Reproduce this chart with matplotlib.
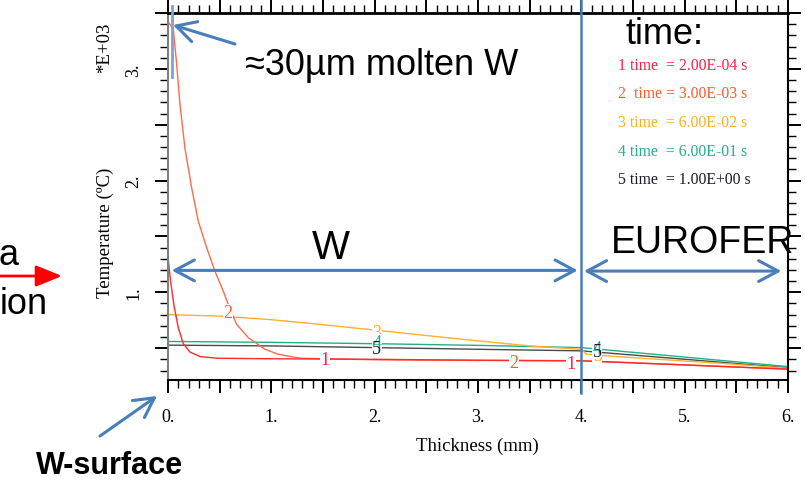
import numpy as np
import matplotlib
matplotlib.use("Agg")
import matplotlib.pyplot as plt
from matplotlib.ticker import MultipleLocator

# ---------------- data (temperature in units of 1E+03 degC) ----------------
x_1 = [0.0, 0.025, 0.058, 0.10, 0.148, 0.213, 0.309, 0.47, 1.0, 2.0, 3.0, 4.0, 5.0, 6.0]
t_1 = [1.31, 1.10, 0.88, 0.68, 0.54, 0.465, 0.425, 0.41, 0.405, 0.40, 0.392, 0.386, 0.35, 0.312]

x_2 = [0.0, 0.051, 0.084, 0.116, 0.164, 0.229, 0.293, 0.374, 0.454, 0.535, 0.60, 0.664,
       0.776, 0.937, 1.066, 1.275, 2.0, 3.0, 4.0, 5.0, 6.0]
t_2 = [3.42, 3.36, 3.04, 2.68, 2.29, 1.935, 1.637, 1.40, 1.19, 1.01, 0.85, 0.714,
       0.595, 0.49, 0.446, 0.41, 0.396, 0.39, 0.388, 0.35, 0.312]

x_3 = [0.0, 0.5, 1.0, 1.5, 2.0, 2.5, 3.0, 3.5, 4.0, 4.05, 4.5, 5.0, 5.5, 6.0]
t_3 = [0.80, 0.787, 0.755, 0.71, 0.662, 0.613, 0.565, 0.52, 0.49, 0.445, 0.415, 0.385, 0.355, 0.32]

x_4 = [0.0, 1.0, 2.0, 3.0, 4.0, 6.0]
t_4 = [0.56, 0.552, 0.54, 0.525, 0.505, 0.335]

x_5 = [0.0, 1.0, 2.0, 3.0, 4.0, 6.0]
t_5 = [0.527, 0.52, 0.505, 0.49, 0.476, 0.325]

legend_lines = ["1 time  = 2.00E-04 s",
                "2  time = 3.00E-03 s",
                "3 time  = 6.00E-02 s",
                "4 time  = 6.00E-01 s",
                "5 time  = 1.00E+00 s"]

# curve label positions (x mm, T) along curves
labels_1 = [(1.517, 0.40), (3.90, 0.365)]
labels_2 = [(0.58, 0.82), (3.35, 0.37)]
labels_3 = [(2.02, 0.64), (4.155, 0.43)]
labels_4 = [(2.02, 0.55), (4.155, 0.50)]
labels_5 = [(2.02, 0.495), (4.155, 0.47)]

x_ticks_labelled = [0, 1, 2, 3, 4, 5, 6]
y_ticks_labelled = [1, 2, 3]

# ---------------- style ----------------
c1, c2, c3, c4, c5 = "#ff2a2a", "#ff6a4a", "#ffb02e", "#22b088", "#4a4a4a"
lc1, lc2, lc3, lc4, lc5 = "#ff1f45", "#ff5a30", "#ffb020", "#22b090", "#1a1a2a"
blue = "#4a7ebb"
serif = ["Liberation Serif", "DejaVu Serif"]
sans = ["Liberation Sans", "DejaVu Sans"]

W, H = 806, 481
fig = plt.figure(figsize=(W / 100, H / 100), dpi=100)
fig.patch.set_facecolor("white")
ax = fig.add_axes([168 / W, 1 - 381 / H, (788 - 168) / W, (381 - 14) / H])

lw = 1.0
ax.plot(x_5, t_5, color=c5, lw=lw, zorder=2)
ax.plot(x_4, t_4, color=c4, lw=lw, zorder=2)
ax.plot(x_3, t_3, color=c3, lw=lw, zorder=2)
ax.plot(x_2, t_2, color=c2, lw=lw, zorder=2)
ax.plot(x_1, t_1, color=c1, lw=lw, zorder=2)

def put_labels(lst, txt, col, box=True):
    for (xx, yy) in lst:
        kw = dict(color=col, fontsize=13, family=serif, ha="center", va="center", zorder=5)
        if box:
            kw["bbox"] = dict(fc="white", ec="none", pad=0.3)
        ax.text(xx, yy, txt, **kw)

put_labels(labels_1, "1", lc1)
put_labels(labels_2, "2", lc2)
put_labels(labels_3, "3", lc3)
put_labels(labels_4, "4", lc4, box=True)
put_labels(labels_5, "5", lc5, box=False)

# ticks
xmaj = np.arange(0, 6.01, 0.5)
ax.set_xticks(xmaj)
ax.set_xticklabels([f"{int(v)}." if float(v).is_integer() and int(v) in x_ticks_labelled else "" for v in xmaj])
ax.xaxis.set_minor_locator(MultipleLocator(0.1))
ymaj = np.arange(0.5, 3.51, 0.5)
ax.set_yticks(ymaj)
ax.set_yticklabels([f"{int(v)}." if float(v).is_integer() and int(v) in y_ticks_labelled else "" for v in ymaj])
ax.yaxis.set_minor_locator(MultipleLocator(0.1))
ax.set_ylim(0.215, 3.5)
ax.set_xlim(0, 6)

ax.tick_params(which="both", direction="out", top=True, right=True,
               labeltop=False, labelright=False, color="black")
ax.tick_params(which="major", length=9.5, width=1.4)
ax.tick_params(which="minor", length=6, width=1.0)
ax.tick_params(axis="x", which="major", pad=11, labelsize=13)
ax.tick_params(axis="y", which="major", pad=9, labelsize=13, labelrotation=90)
for lab in ax.get_xticklabels() + ax.get_yticklabels():
    lab.set_family(serif)
for lab in ax.get_yticklabels():
    lab.set_va("center")

for s in ["top", "right", "bottom"]:
    ax.spines[s].set_color("black")
    ax.spines[s].set_linewidth(1.5)
ax.spines["top"].set_linewidth(2.0)
ax.spines["left"].set_color("#808080")
ax.spines["left"].set_linewidth(1.5)

# axis titles
fig.text(477 / W, 1 - 446 / H, "Thickness (mm)", family=serif, fontsize=13.5,
         ha="center", va="center")
fig.text(105 / W, 1 - 233 / H, "Temperature (ºC)", family=serif, fontsize=13.5,
         ha="center", va="center", rotation=90)
fig.text(104.5 / W, 1 - 48 / H, "*E+03", family=serif, fontsize=13.5,
         ha="center", va="center", rotation=90)

# legend-like text block
for i, (txt, col) in enumerate(zip(legend_lines, [lc1, lc2, lc3, lc4, lc5])):
    fig.text(618 / W, 1 - (66 + i * 28.5) / H, txt, family=serif, fontsize=11.3,
             color=col, ha="left", va="center")

# ---------------- overlay annotations ----------------
ax.axvline(4.0, ymin=-13 / 367, ymax=381 / 367, color=blue, lw=1.8, clip_on=False, zorder=6)
ax.axvline(0.036, ymin=(381 - 78) / 367, ymax=(381 - 7) / 367, color="#7ea2d4", lw=2.0,
           clip_on=False, zorder=6)

head = "<->,head_length=14,head_width=7.5"
ax.annotate("", xy=(0.036, 1.196), xytext=(3.965, 1.196),
            arrowprops=dict(arrowstyle=head, color=blue, lw=2.2, shrinkA=0, shrinkB=0,
                            mutation_scale=1), zorder=7)
ax.annotate("", xy=(4.025, 1.19), xytext=(5.935, 1.19),
            arrowprops=dict(arrowstyle=head, color=blue, lw=2.2, shrinkA=0, shrinkB=0,
                            mutation_scale=1), zorder=7)

one = "->,head_length=14,head_width=7.5"
fig_px = lambda px, py: (px, H - py)
ax.annotate("", xy=fig_px(173, 26), xytext=fig_px(235, 45), xycoords="figure pixels",
            textcoords="figure pixels",
            arrowprops=dict(arrowstyle=one, color=blue, lw=2.2, shrinkA=0, shrinkB=0,
                            mutation_scale=1), annotation_clip=False)
ax.annotate("", xy=fig_px(157, 397), xytext=fig_px(100, 437), xycoords="figure pixels",
            textcoords="figure pixels",
            arrowprops=dict(arrowstyle=one, color=blue, lw=2.2, shrinkA=0, shrinkB=0,
                            mutation_scale=1), annotation_clip=False)
ax.annotate("", xy=fig_px(62, 277), xytext=fig_px(-2, 277), xycoords="figure pixels",
            textcoords="figure pixels",
            arrowprops=dict(arrowstyle="-|>,head_length=16,head_width=6.5", color="#ff0000",
                            lw=2.0, shrinkA=0, shrinkB=0, mutation_scale=1),
            annotation_clip=False)

fig.text(245 / W, 1 - 75 / H, "≈30µm molten W", family=sans, fontsize=26,
         ha="left", va="baseline")
fig.text(664 / W, 1 - 44 / H, "time:", family=sans, fontsize=26,
         ha="center", va="baseline")
fig.text(331 / W, 1 - 259 / H, "W", family=sans, fontsize=29,
         ha="center", va="baseline")
fig.text(703 / W, 1 - 253 / H, "EUROFER", family=sans, fontsize=27,
         ha="center", va="baseline")
fig.text(110 / W, 1 - 474 / H, "W-surface", family=sans, fontsize=22,
         fontweight="bold", ha="center", va="baseline")
fig.text(19 / W, 1 - 265 / H, "a", family=sans, fontsize=26,
         ha="right", va="baseline")
fig.text(0, 1 - 314 / H, "ion", family=sans, fontsize=26,
         ha="left", va="baseline")

fig.savefig("out.png", dpi=100, facecolor="white")
